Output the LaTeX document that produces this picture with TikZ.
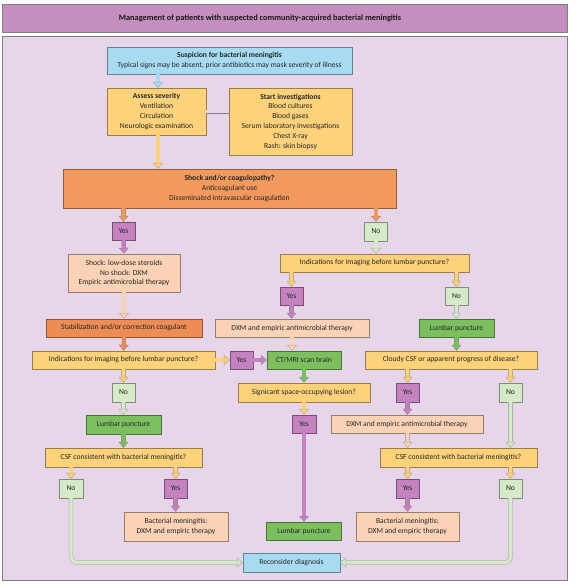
\documentclass[tikz,border=0pt]{standalone}
\usepackage{fontspec}
\setmainfont{Carlito}
\usetikzlibrary{arrows.meta}

\definecolor{ctitle}{HTML}{C48FBF}
\definecolor{cbg}{HTML}{E7D6EA}
\definecolor{cblue}{HTML}{A6DBF2}
\definecolor{cyel}{HTML}{FDD27A}
\definecolor{corange}{HTML}{F29A5E}
\definecolor{cstab}{HTML}{EE8C55}
\definecolor{cpeach}{HTML}{FAD2B6}
\definecolor{cyes}{HTML}{C483C0}
\definecolor{cno}{HTML}{D6EAC8}
\definecolor{cgreen}{HTML}{7CBF5E}

\begin{document}
\begin{tikzpicture}[x=1pt, y=-1pt,
    box/.style={rectangle, draw=#1!60!black, line width=0.4pt, fill=#1, align=center, inner sep=1pt,
        font=\fontsize{7.6}{9.8}\selectfont, text=black!85},
    arr/.style={line width=3.2pt, draw=#1, rounded corners=6pt,
        -{Triangle[length=6pt, width=10pt, line width=0.5pt, fill=#1, color=#1!50!gray]},
        preaction={draw=#1!50!gray, line width=4.4pt, arrows=-, shorten >=3pt}},
    pipe/.style={draw=gray, line width=0.5pt, double=cbg, double distance=3pt}
]
\useasboundingbox (0,0) rectangle (570,586);

% Frame
\draw[gray, fill=ctitle] (2,4) rectangle (567,32);
\draw[gray, fill=cbg] (2,36) rectangle (567,580);
\node[font=\bfseries\fontsize{8.3}{10}\selectfont, text=black!90] (title) at (260,18)
    {Management of patients with suspected community-acquired bacterial meningitis};

% Top
\node[box=cblue, minimum width=245pt, minimum height=27pt] (susp) at (229.5,60.5)
    {\textbf{Suspicion for bacterial meningitis}\\Typical signs may be absent, prior antibiotics may mask severity of illness};
\node[box=cyel, minimum width=99pt, minimum height=47pt] (assess) at (156.5,111.5)
    {\textbf{Assess severity}\\Ventilation\\Circulation\\Neurologic examination};
\node[box=cyel, minimum width=123pt, minimum height=67pt] (start) at (290.5,121.5)
    {\textbf{Start investigations}\\Blood cultures\\Blood gases\\Serum laboratory investigations\\Chest X-ray\\Rash: skin biopsy};
\node[box=corange, minimum width=333pt, minimum height=39pt] (shock) at (229.5,188.5)
    {\textbf{Shock and/or coagulopathy?}\\Anticoagulant use\\Disseminated intravascular coagulation};

% Left branch
\node[box=cyes, minimum width=23pt, minimum height=18pt] (yes1) at (123.5,231) {Yes};
\node[box=cpeach, minimum width=112pt, minimum height=38pt] (steroids) at (124,273)
    {Shock: low-dose steroids\\No shock: DXM\\Empiric antimicrobial therapy};
\node[box=cstab, minimum width=156pt, minimum height=18pt] (stab) at (124,328)
    {Stabilization and/or correction coagulant};
\node[box=cyel, minimum width=183pt, minimum height=18pt] (indL) at (123.5,360)
    {Indications for imaging before lumbar puncture?};
\node[box=cyes, minimum width=23pt, minimum height=18pt] (yes3) at (241.5,360) {Yes};
\node[box=cno, minimum width=23pt, minimum height=19pt] (noL) at (123.5,392.5) {No};
\node[box=cgreen, minimum width=75pt, minimum height=19pt] (lpL) at (123.5,424.5) {Lumbar puncture};
\node[box=cyel, minimum width=157pt, minimum height=19pt] (csfL) at (123.5,457.5)
    {CSF consistent with bacterial meningitis?};
\node[box=cno, minimum width=24pt, minimum height=19pt] (noLL) at (71,488.5) {No};
\node[box=cyes, minimum width=23pt, minimum height=19pt] (yesLL) at (175.5,488.5) {Yes};
\node[box=cpeach, minimum width=104pt, minimum height=29pt] (bmL) at (176,526.5)
    {Bacterial meningitis:\\DXM and empiric therapy};

% Middle
\node[box=cgreen, minimum width=74pt, minimum height=18pt] (ct) at (304,360) {CT/MRI scan brain};
\node[box=cyel, minimum width=132pt, minimum height=19pt] (sig) at (304,392.5)
    {Signicant space-occupying lesion?};
\node[box=cyes, minimum width=24pt, minimum height=18pt] (yes4) at (304,424) {Yes};
\node[box=cgreen, minimum width=75pt, minimum height=18pt] (lpM) at (304,531) {Lumbar puncture};
\node[box=cblue, minimum width=97pt, minimum height=19pt] (recon) at (291.5,562.5) {Reconsider diagnosis};

% Right branch
\node[box=cno, minimum width=23pt, minimum height=19pt] (no1) at (376,231.5) {No};
\node[box=cyel, minimum width=189pt, minimum height=18pt] (indR) at (374.5,263)
    {Indications for imaging before lumbar puncture?};
\node[box=cyes, minimum width=23pt, minimum height=18pt] (yes2) at (291.5,296) {Yes};
\node[box=cno, minimum width=23pt, minimum height=18pt] (no2) at (456.5,296) {No};
\node[box=cpeach, minimum width=154pt, minimum height=18pt] (dxm1) at (292,328)
    {DXM and empiric antimicrobial therapy};
\node[box=cgreen, minimum width=75pt, minimum height=18pt] (lpR) at (456.5,328) {Lumbar puncture};
\node[box=cyel, minimum width=172pt, minimum height=18pt] (cloudy) at (451,360)
    {Cloudy CSF or apparent progress of disease?};
\node[box=cyes, minimum width=23pt, minimum height=19pt] (yesC) at (407.5,392.5) {Yes};
\node[box=cno, minimum width=23pt, minimum height=19pt] (noC) at (510.5,392.5) {No};
\node[box=cpeach, minimum width=152pt, minimum height=18pt] (dxm2) at (407,424)
    {DXM and empiric antimicrobial therapy};
\node[box=cyel, minimum width=157pt, minimum height=19pt] (csfR) at (458.5,457.5)
    {CSF consistent with bacterial meningitis?};
\node[box=cyes, minimum width=23pt, minimum height=19pt] (yesRR) at (407.5,488.5) {Yes};
\node[box=cno, minimum width=23pt, minimum height=19pt] (noRR) at (510.5,488.5) {No};
\node[box=cpeach, minimum width=103pt, minimum height=29pt] (bmR) at (407.5,526.5)
    {Bacterial meningitis:\\DXM and empiric therapy};

% Arrows
\draw[arr=cblue] (susp.south -| 158,0) -- (assess.north -| 158,0);
\draw[pipe] (assess.east) -- (assess.east -| start.west);
\draw[arr=cyel] (assess.south -| 158,0) -- (shock.north -| 158,0);
\draw[arr=corange] (yes1 |- shock.south) -- (yes1.north);
\draw[arr=corange] (no1 |- shock.south) -- (no1.north);

\draw[arr=cyes] (yes1.south) -- (steroids.north);
\draw[arr=cpeach] (steroids.south) -- (stab.north);
\draw[arr=cstab] (stab.south) -- (indL.north);
\draw[arr=cyel] (indL.east) -- (yes3.west);
\draw[arr=cyes] (yes3.east) -- (ct.west);
\draw[arr=cyel] (indL.south) -- (noL.north);
\draw[arr=cno] (noL.south) -- (lpL.north);
\draw[arr=cgreen] (lpL.south) -- (csfL.north);
\draw[arr=cyel] (noLL |- csfL.south) -- (noLL.north);
\draw[arr=cyel] (yesLL |- csfL.south) -- (yesLL.north);
\draw[arr=cyes] (yesLL.south) -- (yesLL |- bmL.north);
\draw[arr=cno] (noLL.south) |- (recon.west);

\draw[arr=cno] (no1.south) -- (no1 |- indR.north);
\draw[arr=cyel] (yes2 |- indR.south) -- (yes2.north);
\draw[arr=cyel] (no2 |- indR.south) -- (no2.north);
\draw[arr=cyes] (yes2.south) -- (yes2 |- dxm1.north);
\draw[arr=cpeach] (dxm1.south) -- (dxm1.south |- ct.north);
\draw[arr=cno] (no2.south) -- (lpR.north);
\draw[arr=cgreen] (lpR.south) -- (lpR.south |- cloudy.north);

\draw[arr=cgreen] (ct.south) -- (sig.north);
\draw[arr=cyel] (sig.south) -- (yes4.north);
\draw[arr=cyes] (yes4.south) -- (lpM.north);

\draw[arr=cyel] (yesC |- cloudy.south) -- (yesC.north);
\draw[arr=cyel] (noC |- cloudy.south) -- (noC.north);
\draw[arr=cyes] (yesC.south) -- (yesC |- dxm2.north);
\draw[arr=cpeach] (yesC |- dxm2.south) -- (yesC |- csfR.north);
\draw[arr=cno] (noC.south) -- (noC |- csfR.north);
\draw[arr=cyel] (yesRR |- csfR.south) -- (yesRR.north);
\draw[arr=cyel] (noRR |- csfR.south) -- (noRR.north);
\draw[arr=cyes] (yesRR.south) -- (yesRR |- bmR.north);
\draw[arr=cno] (noRR.south) |- (recon.east);

\end{tikzpicture}
\end{document}
